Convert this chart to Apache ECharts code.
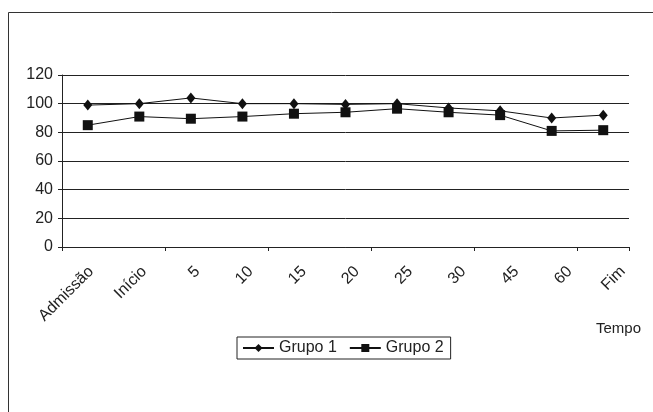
<!DOCTYPE html>
<html><head><meta charset="utf-8">
<script src="https://cdn.jsdelivr.net/npm/echarts@6/dist/echarts.min.js"></script>
<style>html,body{margin:0;padding:0;background:#fff}#c{width:653px;height:412px}</style>
</head><body><div id="c"></div>
<script>
const categories = ['Admissão','Início','5','10','15','20','25','30','45','60','Fim'];
const grupo1 = [99, 100, 104, 100, 100, 99.5, 100, 97, 95, 90, 92];
const grupo2 = [85, 91, 89.5, 91, 93, 94, 96.5, 94, 92, 81, 81.5];
const yTicks = [0, 20, 40, 60, 80, 100, 120];

const chart = echarts.init(document.getElementById('c'), null, {renderer:'canvas'});
const font = 'Liberation Sans, Arial, sans-serif';
chart.setOption({
  animation:false,
  backgroundColor:'#fff',
  textStyle:{fontFamily:font},
  graphic:[
    {type:'rect', shape:{x:8.5,y:12.5,width:700,height:500}, style:{fill:'none',stroke:'#333',lineWidth:1}, silent:true},
    {type:'text', left:596, top:321, style:{text:'Tempo', font:'15px '+font, fill:'#222'}}
  ],
  grid:[
    {left:62, right:24, top:75, bottom:165, containLabel:false},
    {left:64.5, right:3.5, top:75, bottom:165, containLabel:false}
  ],
  legend:{
    data:['Grupo 1','Grupo 2'],
    left:237, top:337,
    itemWidth:31, itemHeight:10, itemGap:12,
    padding:[3,7,3,5],
    borderColor:'#222', borderWidth:1,
    textStyle:{fontSize:16, color:'#222', fontFamily:font}
  },
  xAxis:[{
    type:'category', data:categories, boundaryGap:true, gridIndex:0,
    axisLine:{lineStyle:{color:'#222',width:1}},
    axisTick:{show:true,length:4,lineStyle:{color:'#222'}},
    axisLabel:{show:false},
    splitLine:{show:false}
  },{
    type:'category', data:categories, boundaryGap:true, gridIndex:1,
    axisLine:{show:false}, axisTick:{show:false}, splitLine:{show:false},
    axisLabel:{rotate:45, fontSize:16, color:'#222', margin:22, interval:0, fontFamily:font}
  }],
  yAxis:[{
    type:'value', min:yTicks[0], max:yTicks[yTicks.length-1], interval:20, gridIndex:0,
    axisLine:{show:true,lineStyle:{color:'#222'}},
    axisTick:{show:true,length:4,lineStyle:{color:'#222'}},
    axisLabel:{fontSize:16, color:'#222', margin:9, fontFamily:font},
    splitLine:{show:true,lineStyle:{color:'#222',width:1}}
  },{
    type:'value', min:yTicks[0], max:yTicks[yTicks.length-1], gridIndex:1, show:false
  }],
  series:[
    {name:'Grupo 1', type:'line', data:grupo1, symbol:'diamond', symbolSize:[9,11],
     lineStyle:{color:'#111',width:1}, itemStyle:{color:'#111'}},
    {name:'Grupo 2', type:'line', data:grupo2, symbol:'rect', symbolSize:10,
     lineStyle:{color:'#111',width:1}, itemStyle:{color:'#111'}}
  ]
});
</script></body></html>
